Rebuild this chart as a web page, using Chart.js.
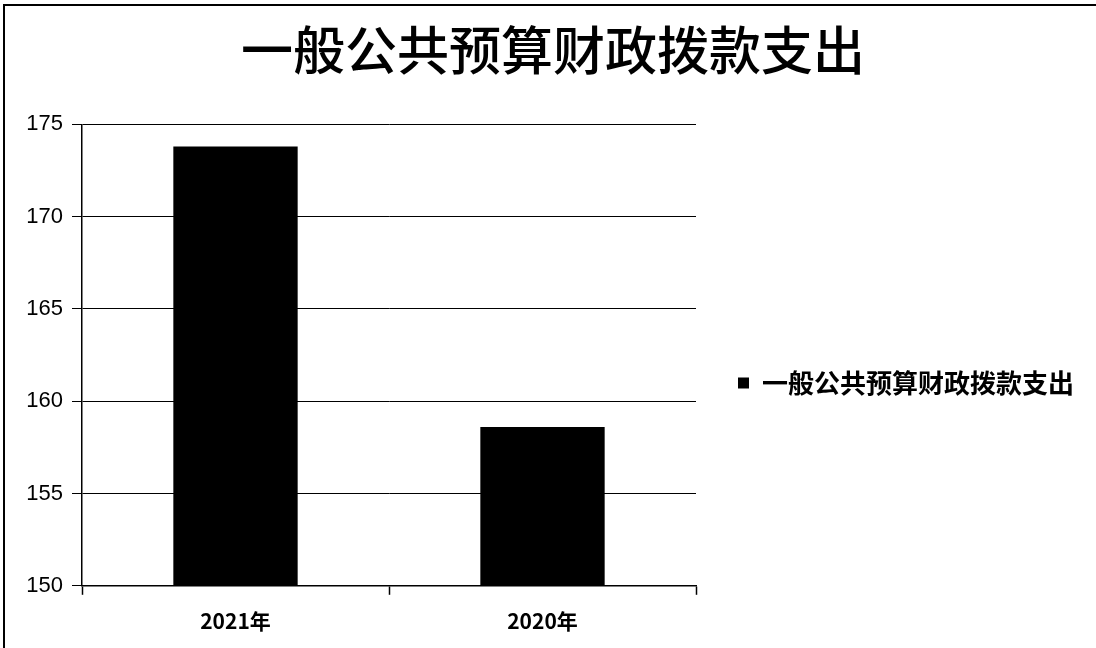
<!DOCTYPE html>
<html>
<head>
<meta charset="utf-8">
<script src="https://cdn.jsdelivr.net/npm/chart.js@4.4.1/dist/chart.umd.min.js"></script>
<style>
html, body { margin: 0; padding: 0; background: #fff; overflow: hidden; }
#wrap { position: relative; width: 1096px; height: 648px; overflow: hidden; }
#frame { position: absolute; left: 3px; top: 4px; width: 1300px; height: 900px;
         border-top: 2px solid #000; border-left: 2px solid #000; pointer-events: none; }
</style>
</head>
<body>
<div id="wrap">
  <canvas id="chart" width="1096" height="648"></canvas>
  <div id="frame"></div>
</div>
<script>
const chartTitle = '一般公共预算财政拨款支出';
const seriesName = '一般公共预算财政拨款支出';
const categories = ['2021年', '2020年'];
const values = [173.8, 158.6];
const yTicks = [150, 155, 160, 165, 170, 175];

const cjk = '"Noto Sans CJK SC", "Liberation Sans", sans-serif';

// legend: fixed width on the right, item pushed a bit below centre
const legendFix = {
    id: 'legendFix',
    beforeLayout(chart) {
        const lg = chart.legend;
        if (lg && !lg._patched) {
            const fit = lg.fit;
            lg.fit = function () { fit.call(this); this.width = 400; };
            lg._patched = true;
        }
    },
    afterLayout(chart) {
        chart.legend.top += 55;
        chart.legend.bottom += 55;
    }
};

new Chart(document.getElementById('chart').getContext('2d'), {
    type: 'bar',
    data: {
        labels: categories,
        datasets: [{
            label: seriesName,
            data: values,
            backgroundColor: '#000',
            borderWidth: 0,
            categoryPercentage: 1,
            barPercentage: 0.405
        }]
    },
    options: {
        responsive: false,
        animation: false,
        layout: { padding: { top: 8, left: 10, right: 0, bottom: 0 } },
        scales: {
            x: {
                grid: { display: true, drawOnChartArea: false, color: '#000', tickLength: 9, tickWidth: 1.5 },
                border: { display: true, color: '#000', width: 1.5 },
                ticks: {
                    color: '#000',
                    padding: 14,
                    font: { family: cjk, size: 21, weight: 'bold' }
                }
            },
            y: {
                min: yTicks[0],
                max: yTicks[yTicks.length - 1],
                afterFit(scale) { scale.width = 72; },
                grid: { color: '#000', lineWidth: 1, tickLength: 10 },
                border: { display: true, color: '#000', width: 1.5 },
                ticks: {
                    stepSize: yTicks[1] - yTicks[0],
                    color: '#000',
                    padding: 9,
                    font: { family: '"Liberation Sans", sans-serif', size: 22 }
                }
            }
        },
        plugins: {
            title: {
                display: true,
                text: chartTitle,
                color: '#000',
                font: { family: cjk, size: 52, weight: '500', lineHeight: 1.2 },
                padding: { top: 11, bottom: 43 }
            },
            legend: {
                position: 'right',
                labels: {
                    color: '#000',
                    boxWidth: 11,
                    boxHeight: 11,
                    padding: 42,
                    font: { family: cjk, size: 26, weight: 'bold' }
                }
            },
            tooltip: { enabled: false }
        }
    },
    plugins: [legendFix]
});
</script>
</body>
</html>
